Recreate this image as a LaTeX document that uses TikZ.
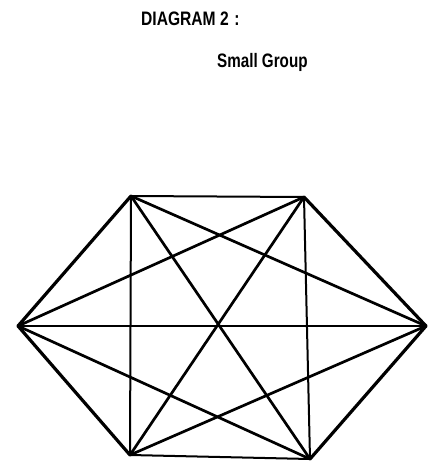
\documentclass[tikz,border=0pt]{standalone}
\usepackage{fontspec}
\setmainfont{Liberation Sans}
\usepackage{graphicx}
\usetikzlibrary{positioning}

\begin{document}
\begin{tikzpicture}[x=1pt, y=-1pt,
      heading/.style={anchor=base west, inner sep=0pt, font=\fontsize{19.5}{22}\selectfont\bfseries},
      rim/.style={line width=3.2pt, line cap=round},
      chord/.style={line width=2.7pt, line cap=round},
      thin/.style={line width=2pt, line cap=round}]
            \useasboundingbox (0,0) rectangle (431,469);
            % Title
            \node[heading] (title) at (141,25) {\scalebox{0.8}[1]{DIAGRAM 2\hspace{7pt}:}};
            \node[heading] (sub) at (217,67) {\scalebox{0.78}[1]{Small Group}};
            % Members (corners of the hexagon)
            \coordinate (tl) at (131,196);
            \coordinate (tr) at (304,197);
            \coordinate (r)  at (426,326);
            \coordinate (br) at (310,459);
            \coordinate (bl) at (130,455);
            \coordinate (l)  at (18,326);
            % Outer sides
            \draw[rim] (l) -- (tl);
            \draw[rim] (tr) -- (r);
            \draw[rim] (r) -- (br);
            \draw[rim] (bl) -- (l);
            \draw[thin] (tl) -- (tr);
            \draw[thin] (bl) -- (br);
            % Verticals and middle line
            \draw[thin] (tl) -- (bl);
            \draw[thin] (tr) -- (br);
            \draw[thin] (l) -- (r);
            % Long diagonals through the centre
            \draw[chord] (tl) -- (br);
            \draw[chord] (tr) -- (bl);
            % Crossing chords
            \draw[chord] (tl) -- (r);
            \draw[chord] (l) -- (tr);
            \draw[chord] (l) -- (br);
            \draw[chord] (bl) -- (r);
\end{tikzpicture}
\end{document}
